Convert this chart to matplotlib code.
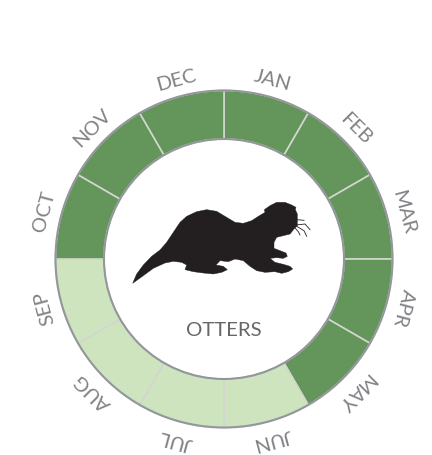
#!/usr/bin/env python3

"""Otter seasonality ring: one wedge per month, dark when in season."""

import math
import matplotlib
matplotlib.use('Agg')
import matplotlib.pyplot as plt
from matplotlib.patches import Circle, Polygon

months = ['JAN', 'FEB', 'MAR', 'APR', 'MAY', 'JUN',
          'JUL', 'AUG', 'SEP', 'OCT', 'NOV', 'DEC']
inSeason = [1, 1, 1, 1, 1, 0, 0, 0, 0, 1, 1, 1]
monthShare = [1] * 12
title = 'OTTERS'

# Silhouette outline (x, y down, in pixels).
otterBody = [(68, 313), (80, 285), (100, 258), (125, 232), (150, 213),
             (170, 190), (190, 160), (210, 130), (230, 112), (260, 98),
             (290, 92), (320, 97), (350, 115), (375, 130), (400, 133),
             (425, 125), (445, 112), (465, 100), (463, 92), (480, 80),
             (500, 70), (525, 70), (545, 78), (558, 85), (556, 92),
             (562, 105), (562, 122), (562, 140), (552, 150), (540, 165),
             (520, 170), (500, 175), (492, 190), (492, 208), (510, 215),
             (528, 222), (532, 232), (520, 238), (500, 236), (480, 238),
             (495, 250), (520, 256), (540, 262), (548, 270), (535, 278),
             (515, 283), (495, 278), (465, 280), (440, 275), (420, 262),
             (400, 245), (375, 240), (355, 248), (330, 245), (318, 258),
             (340, 262), (352, 272), (335, 280), (310, 285), (280, 282),
             (250, 278), (225, 272), (230, 258), (215, 250), (190, 247),
             (165, 252), (130, 268), (100, 290)]
otterWhiskers = [[(560, 122), (582, 124)],
                 [(558, 138), (585, 135), (600, 152)],
                 [(560, 142), (582, 155), (590, 172)],
                 [(556, 148), (565, 158), (570, 168)]]

DARK = '#64955a'
LIGHT = '#cde4bf'
GRID = '#d2d6cf'
RIM = '#92979a'
TEXT = '#808285'

centerX, centerY = 224, 260
outerR, innerR = 168.5, 120
labelR = 186


def zoomToPage(pt):
    # The crop the outline was traced on starts at (110, 180), scaled 3x.
    return (110 + pt[0]/3, 456 - (180 + pt[1]/3))


plt.rcParams['font.family'] = ['Lato', 'DejaVu Sans']

fig = plt.figure(figsize=(4.32, 4.56), dpi=100)
ax = fig.add_axes([0, 0, 1, 1])

center = (centerX, 456 - centerY)
colors = [DARK if s else LIGHT for s in inSeason]
ax.pie(monthShare, colors=colors, radius=outerR, center=center,
       startangle=90, counterclock=False, frame=True,
       wedgeprops=dict(width=outerR - innerR, edgecolor=GRID, linewidth=1.2))
ax.set_xlim(0, 432)
ax.set_ylim(0, 456)
ax.set_aspect('equal')
ax.axis('off')

for r in (outerR, innerR):
    ax.add_patch(Circle(center, r, fill=False, edgecolor=RIM, linewidth=1.5,
                        zorder=3))

theta = [90 - 30*(i + 0.5) for i in range(len(months))]
for name, t in zip(months, theta):
    x = center[0] + labelR*math.cos(math.radians(t))
    y = center[1] + labelR*math.sin(math.radians(t))
    ax.text(x, y, name, color=TEXT, fontsize=14.5, rotation=t - 90,
            rotation_mode='anchor', ha='center', va='center')

ax.text(centerX, 456 - 331, title, color='#666769', fontsize=14.7,
        ha='center', va='center')

ax.add_patch(Polygon([zoomToPage(p) for p in otterBody], closed=True,
                     facecolor='#231f20', edgecolor='#231f20', linewidth=0.3,
                     zorder=4))
for w in otterWhiskers:
    pts = [zoomToPage(p) for p in w]
    ax.plot([p[0] for p in pts], [p[1] for p in pts], color='#231f20',
            linewidth=0.6, zorder=4)

fig.savefig('out.png', dpi=100)
